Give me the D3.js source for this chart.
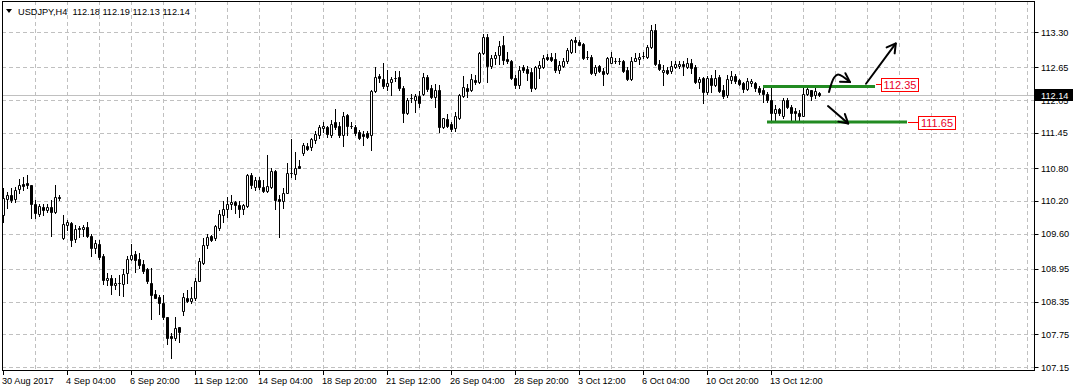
<!DOCTYPE html>
<html>
<head>
<meta charset="utf-8">
<script src="https://cdn.jsdelivr.net/npm/d3@7"></script>
<style>
  body { margin: 0; background: #fff; }
  svg { display: block; }
  text { font-family: "Liberation Sans", Arial, sans-serif; }
</style>
</head>
<body>
<div id="chart"></div>
<script>
// title line (symbol, timeframe, O H L C of the last bar)
const chartTitle = "USDJPY,H4  112.18 112.19 112.13 112.14"

// H4 bars (bar 0 = 30 Aug 2017 12:00)
const openP = [
  109.94,110.23,110.31,110.23,110.41,110.51,110.52,110.49,110.14,109.96,
  110.08,110.04,110.09,109.99,110.27,109.51,109.76,109.79,109.50,109.71,
  109.68,109.72,109.55,109.33,109.40,109.19,108.74,108.78,108.65,108.70,
  108.67,108.87,109.13,109.22,109.13,109.04,108.95,108.70,108.49,108.43,
  108.33,108.07,107.71,107.69,107.88,108.17,108.41,108.36,108.41,108.73,
  109.06,109.39,109.55,109.51,109.71,109.94,110.05,110.15,110.17,110.12,
  110.05,110.11,110.67,110.46,110.58,110.45,110.38,110.46,110.74,110.23,
  110.19,110.35,110.71,110.69,110.84,111.07,111.21,111.19,111.31,111.41,
  111.53,111.56,111.41,111.64,111.57,111.41,111.78,111.57,111.56,111.46,
  111.43,111.44,111.41,112.21,112.49,112.44,112.31,112.39,112.46,112.47,
  112.27,111.81,112.08,112.05,112.13,112.17,112.48,112.27,112.11,112.24,
  111.56,111.70,111.61,111.54,111.73,112.13,112.28,112.24,112.42,112.39,
  112.91,113.20,112.68,112.83,112.87,113.06,112.80,112.76,112.46,112.32,
  112.65,112.62,112.57,112.28,112.63,112.65,112.84,112.84,112.80,112.60,
  112.68,112.76,112.94,113.15,113.12,113.08,112.85,112.85,112.55,112.67,
  112.59,112.54,112.74,112.77,112.76,112.76,112.60,112.44,112.77,112.80,
  112.86,112.85,113.03,113.34,112.72,112.57,112.60,112.59,112.66,112.68,
  112.71,112.66,112.74,112.66,112.39,112.45,112.20,112.45,112.33,112.48,
  112.23,112.14,112.42,112.49,112.41,112.36,112.25,112.36,112.36,112.27,
  112.23,112.16,112.06,111.81,111.88,111.75,112.05,111.93,111.85,111.81,
  111.76,112.17,112.23,112.14,112.18
]
const highP = [
  110.44,110.37,110.43,110.46,110.61,110.63,110.67,110.50,110.22,110.15,
  110.15,110.15,110.22,110.49,110.31,109.94,109.85,109.81,109.76,109.74,
  109.76,109.81,109.60,109.48,109.48,109.22,108.87,108.84,108.78,108.84,
  108.95,109.19,109.40,109.28,109.24,109.11,108.97,108.96,108.56,108.47,
  108.47,108.07,107.77,108.07,107.89,108.50,108.56,108.61,108.79,109.16,
  109.51,109.60,109.57,109.76,110.03,110.19,110.28,110.31,110.20,110.19,
  110.15,110.69,110.71,110.64,110.63,110.58,111.04,110.80,110.77,110.31,
  110.44,110.89,111.34,111.10,110.95,111.26,111.26,111.36,111.48,111.59,
  111.65,111.58,111.69,111.89,111.65,111.84,111.79,111.65,111.59,111.50,
  111.48,111.48,112.24,112.66,112.52,112.73,112.60,112.48,112.58,112.58,
  112.30,112.08,112.17,112.17,112.21,112.54,112.51,112.32,112.34,112.33,
  111.73,111.79,111.65,111.83,112.17,112.49,112.34,112.52,112.51,112.94,
  113.26,113.26,112.88,112.94,113.14,113.22,112.94,112.79,112.51,112.67,
  112.69,112.68,112.63,112.68,112.76,112.88,112.89,112.91,112.91,112.76,
  112.82,113.00,113.18,113.20,113.15,113.09,112.95,112.88,112.69,112.69,
  112.63,112.85,112.94,112.82,112.82,112.79,112.66,112.85,112.91,112.91,
  112.94,113.06,113.43,113.45,112.79,112.69,112.66,112.76,112.76,112.76,
  112.76,112.82,112.80,112.69,112.48,112.48,112.49,112.51,112.60,112.51,
  112.33,112.51,112.59,112.53,112.43,112.39,112.45,112.43,112.39,112.30,
  112.27,112.20,112.30,111.96,111.90,112.08,112.08,111.96,111.90,111.86,
  112.27,112.30,112.23,112.27,112.19
]
const lowP = [
  109.82,110.06,110.18,110.18,110.34,110.40,110.44,109.88,109.88,109.93,
  109.94,110.00,109.56,109.97,110.22,109.50,109.67,109.38,109.44,109.54,
  109.56,109.54,109.19,109.25,109.13,108.67,108.65,108.49,108.59,108.47,
  108.45,108.70,109.11,108.89,108.97,108.87,108.70,108.04,108.41,108.13,
  108.03,107.57,107.31,107.65,107.61,108.10,108.35,108.32,108.38,108.72,
  109.05,109.33,109.46,109.48,109.66,109.82,109.91,110.05,109.97,109.91,
  109.95,110.09,110.44,110.40,110.42,110.36,110.37,110.43,110.05,109.54,
  110.07,110.34,110.64,110.61,110.80,111.04,111.13,111.13,111.27,111.35,
  111.46,111.38,111.38,111.52,111.38,111.20,111.41,111.54,111.41,111.34,
  111.23,111.35,111.13,112.19,112.39,112.27,112.24,112.14,112.40,112.24,
  111.65,111.79,112.02,111.84,111.93,112.14,112.21,112.09,111.93,111.47,
  111.54,111.56,111.48,111.48,111.70,112.11,112.11,112.21,112.34,112.36,
  112.89,112.39,112.63,112.71,112.71,112.71,112.73,112.44,112.27,112.27,
  112.57,112.42,112.22,112.25,112.45,112.63,112.79,112.77,112.57,112.54,
  112.65,112.74,112.91,112.94,113.06,112.80,112.80,112.52,112.51,112.57,
  112.32,112.52,112.73,112.73,112.72,112.57,112.42,112.42,112.76,112.72,
  112.82,112.82,113.00,112.69,112.60,112.33,112.53,112.55,112.63,112.63,
  112.51,112.63,112.55,112.36,112.27,111.99,112.16,112.20,112.30,112.20,
  112.08,112.11,112.36,112.36,112.33,112.20,112.23,112.30,112.22,112.16,
  112.02,112.02,111.68,111.68,111.78,111.73,111.90,111.65,111.68,111.65,
  111.75,112.14,112.05,112.08,112.13
]
const closeP = [
  110.26,110.31,110.22,110.40,110.49,110.48,110.49,110.15,109.97,110.11,
  110.03,110.08,109.99,110.28,110.26,109.77,109.81,109.48,109.68,109.68,
  109.72,109.55,109.34,109.42,109.17,108.75,108.79,108.65,108.70,108.70,
  108.85,109.13,109.21,109.11,109.03,108.92,108.72,108.48,108.42,108.32,
  108.06,107.69,107.68,107.87,107.80,108.43,108.36,108.41,108.73,109.10,
  109.39,109.54,109.49,109.73,109.95,110.05,110.15,110.17,110.12,110.05,
  110.12,110.67,110.49,110.58,110.46,110.39,110.47,110.75,110.22,110.19,
  110.35,110.72,110.71,110.81,110.81,111.23,111.15,111.33,111.43,111.56,
  111.57,111.43,111.62,111.56,111.41,111.76,111.58,111.57,111.45,111.36,
  111.39,111.38,112.22,112.48,112.45,112.31,112.36,112.44,112.46,112.27,
  111.81,112.05,112.08,112.13,111.99,112.47,112.25,112.11,112.24,111.56,
  111.72,111.58,111.52,111.75,112.14,112.29,112.22,112.43,112.38,112.91,
  113.20,112.68,112.82,112.88,113.04,112.79,112.77,112.46,112.33,112.60,
  112.60,112.55,112.28,112.65,112.69,112.83,112.80,112.79,112.60,112.69,
  112.77,112.97,113.15,113.11,113.07,112.83,112.85,112.55,112.65,112.59,
  112.52,112.82,112.85,112.77,112.76,112.59,112.44,112.77,112.83,112.85,
  112.86,113.03,113.34,112.71,112.62,112.61,112.55,112.68,112.71,112.72,
  112.68,112.74,112.64,112.39,112.44,112.19,112.45,112.33,112.46,112.22,
  112.12,112.44,112.49,112.40,112.34,112.25,112.40,112.40,112.27,112.19,
  112.17,112.05,111.81,111.88,111.82,112.05,111.93,111.82,111.81,111.76,
  112.17,112.25,112.13,112.22,112.14
]

// price axis labels (right side)
const priceTicks = [113.30, 112.65, 112.05, 111.45, 110.80, 110.20, 109.60, 108.95, 108.35, 107.75, 107.15]

// time axis labels and the bar each one belongs to
const timeLabels = ["30 Aug 2017", "4 Sep 04:00", "6 Sep 20:00", "11 Sep 12:00", "14 Sep 04:00",
  "18 Sep 20:00", "21 Sep 12:00", "26 Sep 04:00", "28 Sep 20:00", "3 Oct 12:00",
  "6 Oct 04:00", "10 Oct 20:00", "13 Oct 12:00"]
const timeLabelBars = [0, 16, 32, 48, 64, 80, 96, 112, 128, 144, 160, 176, 192]

// current bid
const bidPrice = 112.14

// drawn levels (green lines) and their price tags
const levelPrices = [112.30, 111.65]
const levelStartBar = [190, 191]
const levelEndBar = [218, 226]
const levelTags = ["112.35", "111.65"]
const levelTagBar = [219.5, 228.75]

// hand drawn arrows, points as [bar, price]
const arrowCurve = [[206.5, 112.20], [207.75, 112.46], [208.75, 112.52], [211.75, 112.38]]
const arrowUp = [[215.75, 112.35], [223.2, 113.09]]
const arrowDown = [[206.25, 111.94], [211.3, 111.62]]

function draw() {
  let dimensions = {
    width: 1075,
    height: 391,
    // the black frame round the plotting area
    frame: { left: 2, top: 1, right: 1034, bottom: 370 },
    barStep: 4,
    firstBarX: 3
  }
  const fr = dimensions.frame
  const axisFont = '9.2px'

  const svg = d3.select('#chart')
    .append('svg')
    .attr('width', dimensions.width)
    .attr('height', dimensions.height)

  svg.append('defs').append('clipPath').attr('id', 'plot')
    .append('rect')
    .attr('x', fr.left).attr('y', fr.top)
    .attr('width', fr.right - fr.left).attr('height', fr.bottom - fr.top)

  // scales: bar index -> x, price -> y
  const xScale = d3.scaleLinear()
    .domain([0, 1])
    .range([dimensions.firstBarX, dimensions.firstBarX + dimensions.barStep])
  const yScale = d3.scaleLinear()
    .domain([107.15, 113.30])
    .range([367, 32])

  const px = (i) => Math.round(xScale(i)) + 0.5
  const py = (p) => Math.round(yScale(p)) + 0.5

  const ctr = svg.append('g').attr('clip-path', 'url(#plot)')

  // grid
  const gridColor = '#c0c0c0'
  ctr.append('g').selectAll('line')
    .data(priceTicks)
    .join('line')
    .attr('x1', fr.left).attr('x2', fr.right)
    .attr('y1', d => py(d)).attr('y2', d => py(d))
    .attr('stroke', gridColor)
    .attr('stroke-dasharray', '4,3')

  const gridBars = d3.range(8, 260, 8).filter(b => xScale(b) < fr.right - 1)
  ctr.append('g').selectAll('line')
    .data(gridBars)
    .join('line')
    .attr('x1', d => px(d)).attr('x2', d => px(d))
    .attr('y1', fr.top).attr('y2', fr.bottom)
    .attr('stroke', gridColor)
    .attr('stroke-dasharray', '4,3')

  // bid line
  ctr.append('line')
    .attr('x1', fr.left).attr('x2', fr.right)
    .attr('y1', py(bidPrice)).attr('y2', py(bidPrice))
    .attr('stroke', '#c0c0c0')

  // candles
  const bars = openP.map((o, i) => ({ i, o, h: highP[i], l: lowP[i], c: closeP[i] }))

  ctr.append('g').selectAll('line')
    .data(bars)
    .join('line')
    .attr('x1', d => px(d.i)).attr('x2', d => px(d.i))
    .attr('y1', d => Math.round(yScale(d.h)))
    .attr('y2', d => Math.round(yScale(d.l)) + 1)
    .attr('stroke', '#000')

  ctr.append('g').selectAll('path')
    .data(bars)
    .join('path')
    .attr('d', d => {
      const x0 = Math.round(xScale(d.i)) - 0.5
      const yTop = py(Math.max(d.o, d.c))
      const yBot = py(Math.min(d.o, d.c))
      return `M${x0},${yTop}H${x0 + 2}V${yBot}H${x0}Z`
    })
    .attr('fill', d => d.c >= d.o ? '#fff' : '#000')
    .attr('stroke', '#000')

  // green levels
  ctr.append('g').selectAll('line')
    .data(levelPrices)
    .join('line')
    .attr('x1', (d, k) => xScale(levelStartBar[k]))
    .attr('x2', (d, k) => xScale(levelEndBar[k]))
    .attr('y1', d => yScale(d)).attr('y2', d => yScale(d))
    .attr('stroke', '#228b22')
    .attr('stroke-width', 3)

  // price tags of the levels
  const tags = ctr.append('g').selectAll('g')
    .data(levelTags)
    .join('g')
    .attr('transform', (d, k) => `translate(${Math.round(xScale(levelTagBar[k]))}, ${Math.round(yScale(+d))})`)
  tags.append('line')
    .attr('x1', (d, k) => Math.round(xScale(levelEndBar[k]) - xScale(levelTagBar[k])) + 1)
    .attr('x2', 0)
    .attr('y1', 0.5).attr('y2', 0.5)
    .attr('stroke', '#f00')
  tags.append('rect')
    .attr('x', 0.5).attr('y', -5.5)
    .attr('width', 37).attr('height', 13)
    .attr('fill', '#fff')
    .attr('stroke', '#f00')
  tags.append('text')
    .attr('x', 19).attr('y', 5)
    .attr('text-anchor', 'middle')
    .attr('fill', '#e8002a')
    .style('font-size', '11px')
    .text(d => d)

  // arrows
  const toPx = (pt) => [xScale(pt[0]), yScale(pt[1])]
  const arrowGroup = ctr.append('g')
    .attr('fill', 'none')
    .attr('stroke', '#000')
    .attr('stroke-width', 2)
    .attr('stroke-linecap', 'round')
    .attr('stroke-linejoin', 'round')

  const head = (from, tip) => {
    const a = Math.atan2(tip[1] - from[1], tip[0] - from[0])
    const len = 10, spread = Math.PI / 6
    const p1 = [tip[0] - len * Math.cos(a - spread), tip[1] - len * Math.sin(a - spread)]
    const p2 = [tip[0] - len * Math.cos(a + spread), tip[1] - len * Math.sin(a + spread)]
    return `M${p1}L${tip}L${p2}`
  }

  ;[arrowCurve, arrowUp, arrowDown].forEach(pts => {
    const pix = pts.map(toPx)
    arrowGroup.append('path')
      .attr('d', d3.line().curve(d3.curveCatmullRom)(pix))
    arrowGroup.append('path')
      .attr('d', head(pix[pix.length - 2], pix[pix.length - 1]))
  })

  // frame
  svg.append('rect')
    .attr('x', fr.left + 0.5).attr('y', fr.top + 0.5)
    .attr('width', fr.right - fr.left).attr('height', fr.bottom - fr.top)
    .attr('fill', 'none')
    .attr('stroke', '#000')

  // right price axis
  const yAxisGroup = svg.append('g')
  yAxisGroup.selectAll('line')
    .data(priceTicks)
    .join('line')
    .attr('x1', fr.right + 0.5).attr('x2', fr.right + 4.5)
    .attr('y1', d => py(d)).attr('y2', d => py(d))
    .attr('stroke', '#000')
  // the 112.05 label sits under the bid tag, as in MT4
  yAxisGroup.selectAll('text')
    .data(priceTicks)
    .join('text')
    .attr('x', fr.right + 7)
    .attr('y', d => yScale(d) + 3.5)
    .attr('fill', '#000')
    .style('font-size', axisFont)
    .text(d => d.toFixed(2))

  // bid tag on the price axis
  yAxisGroup.append('rect')
    .attr('x', fr.right + 1).attr('y', Math.round(yScale(bidPrice)) - 6)
    .attr('width', 38).attr('height', 12)
    .attr('fill', '#000')
  yAxisGroup.append('text')
    .attr('x', fr.right + 7)
    .attr('y', yScale(bidPrice) + 3.5)
    .attr('fill', '#fff')
    .style('font-size', axisFont)
    .text(bidPrice.toFixed(2))

  // time axis
  const xAxisGroup = svg.append('g')
  xAxisGroup.selectAll('line')
    .data(timeLabelBars)
    .join('line')
    .attr('x1', d => px(d)).attr('x2', d => px(d))
    .attr('y1', fr.bottom).attr('y2', fr.bottom + 5)
    .attr('stroke', '#000')
  xAxisGroup.selectAll('text')
    .data(timeLabels)
    .join('text')
    .attr('x', (d, k) => xScale(timeLabelBars[k]) - 1)
    .attr('y', 384)
    .attr('fill', '#000')
    .style('font-size', axisFont)
    .text(d => d)

  // title
  svg.append('path')
    .attr('d', 'M6,9H12L9,13Z')
    .attr('fill', '#000')
  svg.append('text')
    .attr('x', 18).attr('y', 15)
    .attr('fill', '#000')
    .style('font-size', '9.2px')
    .style('white-space', 'pre')
    .text(chartTitle)
}

draw()
</script>
</body>
</html>
